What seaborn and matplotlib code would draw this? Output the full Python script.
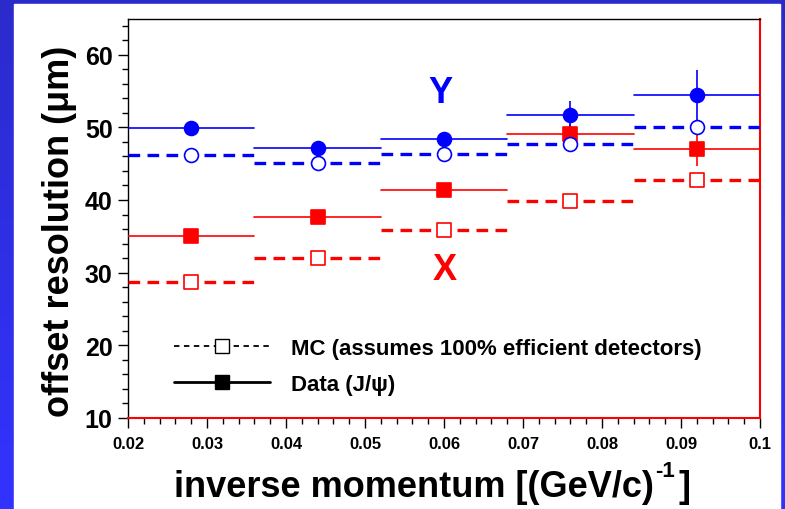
import numpy as np
import matplotlib
matplotlib.use("Agg")
import matplotlib.pyplot as plt
import seaborn as sns
import pandas as pd
from matplotlib.lines import Line2D
from matplotlib.ticker import MultipleLocator

# ---------------- data ----------------
bin_centers = [0.028, 0.044, 0.060, 0.076, 0.092]
bin_halfwidth = [0.008, 0.008, 0.008, 0.008, 0.008]

y_data = [49.9, 47.1, 48.4, 51.7, 54.4]
y_data_err = [0.4, 0.4, 0.5, 1.85, 3.45]
y_mc = [46.2, 45.1, 46.3, 47.7, 50.0]
y_mc_err = [0.3, 0.3, 0.3, 0.3, 0.3]

x_data = [35.0, 37.7, 41.4, 49.1, 47.0]
x_data_err = [0.4, 0.4, 0.4, 1.4, 2.3]
x_mc = [28.7, 32.0, 35.8, 39.9, 42.7]
x_mc_err = [0.3, 0.3, 0.3, 0.3, 0.3]

x_ticks = [0.02, 0.03, 0.04, 0.05, 0.06, 0.07, 0.08, 0.09, 0.1]
x_tick_labels = ["0.02", "0.03", "0.04", "0.05", "0.06", "0.07", "0.08", "0.09", "0.1"]
y_ticks = [10, 20, 30, 40, 50, 60]

legend_labels = ["MC (assumes 100% efficient detectors)", "Data (J/\u03c8)"]
x_label_main = "inverse momentum [(GeV/c)"
x_label_sup = "-1"
x_label_end = "]"
y_label = "offset resolution (\u03bcm)"

BLUE = "#0000ff"
RED = "#ff0000"

sns.set_style("white")
plt.rcParams["font.family"] = ["Liberation Sans", "DejaVu Sans"]
plt.rcParams["font.weight"] = "bold"
for k in ["text.color", "axes.labelcolor", "xtick.color", "ytick.color"]:
    plt.rcParams[k] = "black"

W, H = 785, 510
fig = plt.figure(figsize=(W / 100, H / 100), dpi=100)

# background: blue gradient frame with white panel
bg = fig.add_axes([0, 0, 1, 1], zorder=0)
grad = np.linspace(0, 1, 256).reshape(-1, 1)
top_c = np.array([43, 43, 204]) / 255
bot_c = np.array([51, 51, 255]) / 255
img = top_c[None, None, :] * (1 - grad[:, :, None]) + bot_c[None, None, :] * grad[:, :, None]
bg.imshow(img, aspect="auto", extent=[0, 1, 0, 1], origin="upper")
bg.add_patch(plt.Rectangle((14 / W, 0), (780 - 14) / W, 505 / H, color="white", zorder=2))
bg.set_xlim(0, 1)
bg.set_ylim(0, 1)
bg.axis("off")

ax = fig.add_axes([128 / W, (H - 419) / H, (760 - 128) / W, (419 - 20) / H], zorder=2)
ax.set_facecolor("white")

centers = np.array(bin_centers)
hw = np.array(bin_halfwidth)

def draw_series(vals, errs, color, dashed, filled, marker):
    vals = np.array(vals)
    ls = (0, (3.5, 2.2)) if dashed else "-"
    lw = 2.4 if dashed else 1.2
    for c, h, v in zip(centers, hw, vals):
        ax.plot([c - h, c + h], [v, v], color=color, lw=lw, ls=ls, zorder=3)
    ax.errorbar(centers, vals, yerr=errs, fmt="none", ecolor=color, elinewidth=1.2, capsize=0, zorder=3)
    df = pd.DataFrame({"x": centers, "y": vals})
    sns.scatterplot(data=df, x="x", y="y", ax=ax, marker=marker, s=100 if marker == "o" else 92,
                    facecolor=color if filled else "white", edgecolor=color,
                    linewidth=1.2, zorder=4, legend=False)

draw_series(x_mc, x_mc_err, RED, True, False, "s")
draw_series(x_data, x_data_err, RED, False, True, "s")
draw_series(y_mc, y_mc_err, BLUE, True, False, "o")
draw_series(y_data, y_data_err, BLUE, False, True, "o")

ax.set_xlim(0.02, 0.1)
ax.set_ylim(10, 64.9)
ax.set_xticks(x_ticks)
ax.set_xticklabels(x_tick_labels, fontsize=12, fontweight="bold")
ax.set_yticks(y_ticks)
ax.set_yticklabels([str(t) for t in y_ticks], fontsize=18, fontweight="bold")
ax.xaxis.set_minor_locator(MultipleLocator(0.002))
ax.yaxis.set_minor_locator(MultipleLocator(2))
ax.tick_params(axis="both", which="major", direction="out", length=7, width=1, color="black", left=True, bottom=True)
ax.tick_params(axis="both", which="minor", direction="out", length=4, width=1, color="black", left=True, bottom=True)
ax.tick_params(axis="x", pad=6)
ax.tick_params(axis="y", pad=4)

for side in ["left", "top"]:
    ax.spines[side].set_color("black")
    ax.spines[side].set_linewidth(1.0)
for side in ["right", "bottom"]:
    ax.spines[side].set_color(RED)
    ax.spines[side].set_linewidth(1.5)

ax.set_xlabel("")
ax.set_ylabel(y_label, fontsize=26, fontweight="bold")
ax.yaxis.set_label_coords(-0.080, 0.47)

# x label composed of pieces (hyphen-style superscript)
renderer = fig.canvas.get_renderer()
t_main = fig.text(174 / W, 1 - 497 / H, x_label_main, fontsize=26, fontweight="bold",
                  ha="left", va="baseline")
bb = t_main.get_window_extent(renderer)
t_sup = fig.text((bb.x1 + 1) / W, 1 - 477 / H, x_label_sup, fontsize=16, fontweight="bold",
                 ha="left", va="baseline")
bb2 = t_sup.get_window_extent(renderer)
fig.text((bb2.x1 + 4) / W, 1 - 497 / H, x_label_end, fontsize=26, fontweight="bold",
         ha="left", va="baseline")

ax.text(0.0595, 54.8, "Y", color=BLUE, fontsize=26, fontweight="bold", ha="center", va="center")
ax.text(0.0601, 30.5, "X", color=RED, fontsize=26, fontweight="bold", ha="center", va="center")

h_mc = Line2D([], [], color="black", ls=(0, (3, 2.5)), lw=1.3, marker="s", markersize=10,
              markerfacecolor="white", markeredgecolor="black", markeredgewidth=1.0)
h_data = Line2D([], [], color="black", ls="-", lw=2.0, marker="s", markersize=10,
                markerfacecolor="black", markeredgecolor="black")
leg = ax.legend([h_mc, h_data], legend_labels, loc="upper left",
                bbox_to_anchor=(174 / W, 1 - 339 / H), bbox_transform=fig.transFigure,
                frameon=False, handlelength=4.3, handletextpad=0.95,
                labelspacing=0.68, borderpad=0, borderaxespad=0,
                prop={"weight": "bold", "size": 16})

fig.savefig("out.png", dpi=100)
